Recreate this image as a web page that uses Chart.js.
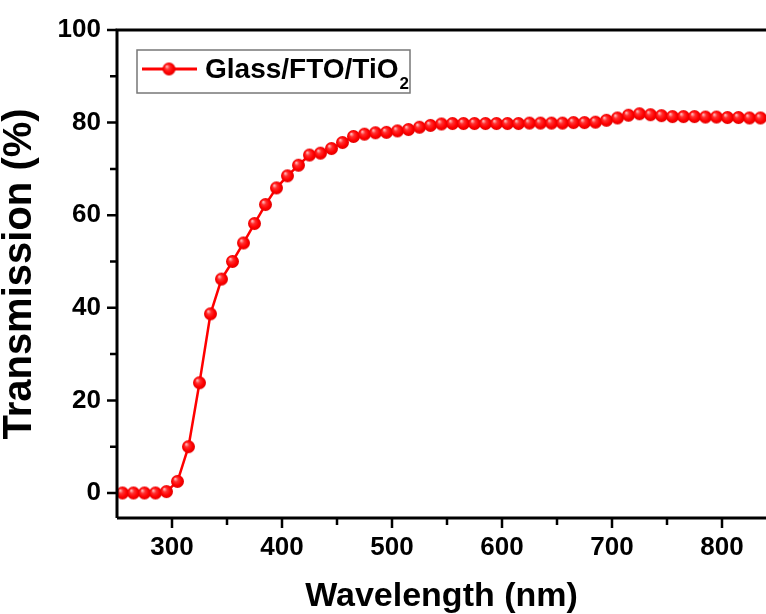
<!DOCTYPE html>
<html>
<head>
<meta charset="utf-8">
<script src="https://cdn.jsdelivr.net/npm/chart.js@4"></script>
<style>
  html, body { margin: 0; padding: 0; background: #fff; overflow: hidden; }
  #wrap { width: 766px; height: 614px; }
  canvas { display: block; }
</style>
</head>
<body>
<div id="wrap"><canvas id="chart"></canvas></div>
<script>
// wavelength (nm) and transmission (%)
const wavelength = [255, 265, 275, 285, 295, 305, 315, 325, 335, 345,
  355, 365, 375, 385, 395, 405, 415, 425, 435, 445,
  455, 465, 475, 485, 495, 505, 515, 525, 535, 545,
  555, 565, 575, 585, 595, 605, 615, 625, 635, 645,
  655, 665, 675, 685, 695, 705, 715, 725, 735, 745,
  755, 765, 775, 785, 795, 805, 815, 825, 835];
const transmission = [0, 0, 0, 0, 0.3, 2.5, 10, 23.8, 38.7, 46.2,
  50, 54, 58.2, 62.3, 65.9, 68.5, 70.8, 73, 73.4, 74.4,
  75.7, 77, 77.5, 77.8, 77.9, 78.2, 78.5, 79, 79.4, 79.7,
  79.8, 79.8, 79.8, 79.8, 79.8, 79.8, 79.8, 79.9, 79.9, 79.9,
  79.9, 80, 80, 80.1, 80.5, 81, 81.6, 81.9, 81.7, 81.5,
  81.3, 81.3, 81.3, 81.2, 81.2, 81.1, 81.1, 81.0, 81.0];
const xTicks = [300, 350, 400, 450, 500, 550, 600, 650, 700, 750, 800];
const xLabels = [300, 400, 500, 600, 700, 800];
const yTicks = [0, 10, 20, 30, 40, 50, 60, 70, 80, 90, 100];
const yLabels = [0, 20, 40, 60, 80, 100];
const seriesName = 'Glass/FTO/TiO';

const FONT = '"Liberation Sans", Arial, sans-serif';

// shiny red ball used as the marker
function makeBall(r) {
  const c = document.createElement('canvas');
  c.width = c.height = r * 2 + 2;
  const g = c.getContext('2d');
  const cx = r + 1, cy = r + 1;
  const grad = g.createRadialGradient(cx - r * 0.35, cy - r * 0.4, 0.5, cx, cy, r);
  grad.addColorStop(0, '#ffb0b0');
  grad.addColorStop(0.3, '#ff3030');
  grad.addColorStop(0.7, '#ff0000');
  grad.addColorStop(1, '#e00000');
  g.fillStyle = grad;
  g.beginPath();
  g.arc(cx, cy, r, 0, Math.PI * 2);
  g.fill();
  return c;
}
const ball = makeBall(6.5);

const frame = {
  id: 'frame',
  afterDraw(chart) {
    const ctx = chart.ctx;
    const a = chart.chartArea;
    const xs = chart.scales.x, ys = chart.scales.y;
    ctx.save();
    ctx.strokeStyle = '#000';
    ctx.lineWidth = 3;
    ctx.beginPath();
    ctx.moveTo(a.left, a.bottom); ctx.lineTo(a.right, a.bottom);
    ctx.moveTo(a.left, a.bottom); ctx.lineTo(a.left, a.top);
    ctx.moveTo(a.left - 1.5, a.top); ctx.lineTo(a.right, a.top);
    ctx.stroke();
    ctx.lineWidth = 2.5;
    ctx.beginPath();
    xTicks.forEach(v => {
      const px = xs.getPixelForValue(v);
      const len = xLabels.includes(v) ? 10 : 7;
      ctx.moveTo(px, a.bottom); ctx.lineTo(px, a.bottom + len);
    });
    yTicks.forEach(v => {
      const py = ys.getPixelForValue(v);
      const len = yLabels.includes(v) ? 10 : 7;
      ctx.moveTo(a.left, py); ctx.lineTo(a.left - len, py);
    });
    ctx.stroke();

    // legend
    ctx.lineWidth = 1.5;
    ctx.strokeStyle = '#777';
    ctx.strokeRect(137, 50, 273, 43);
    ctx.strokeStyle = '#ff0000';
    ctx.lineWidth = 3;
    ctx.beginPath();
    ctx.moveTo(142, 69); ctx.lineTo(197, 69);
    ctx.stroke();
    ctx.drawImage(ball, 169 - ball.width / 2, 69 - ball.height / 2);
    ctx.fillStyle = '#000';
    ctx.textBaseline = 'alphabetic';
    ctx.font = 'bold 28px ' + FONT;
    ctx.fillText(seriesName, 205, 78);
    const w = ctx.measureText(seriesName).width;
    ctx.font = 'bold 17px ' + FONT;
    ctx.fillText('2', 205 + w + 1, 89);
    ctx.restore();
  }
};

new Chart(document.getElementById('chart'), {
  type: 'line',
  data: {
    datasets: [{
      label: seriesName,
      data: wavelength.map((x, i) => ({ x: x, y: transmission[i] })),
      borderColor: '#ff0000',
      borderWidth: 2.5,
      pointStyle: ball,
      pointRadius: 6.5,
      tension: 0
    }]
  },
  options: {
    responsive: true,
    maintainAspectRatio: false,
    animation: false,
    layout: { autoPadding: false, padding: { top: 30, right: 0, left: 0, bottom: 0 } },
    plugins: { legend: { display: false }, tooltip: { enabled: false } },
    scales: {
      x: {
        type: 'linear',
        min: 250,
        max: 840,
        border: { display: false },
        grid: { display: false, drawTicks: false },
        afterBuildTicks: s => { s.ticks = xLabels.map(v => ({ value: v })); },
        afterFit: s => { s.height = 96; s.paddingLeft = 0; s.paddingRight = 0; },
        ticks: {
          padding: 14,
          maxRotation: 0,
          autoSkip: false,
          color: '#000',
          font: { family: FONT, size: 26, weight: 'bold' }
        },
        title: {
          display: true,
          text: 'Wavelength (nm)',
          color: '#000',
          padding: { top: 0, bottom: 0 },
          font: { family: FONT, size: 34, weight: 'bold', lineHeight: 1 }
        }
      },
      y: {
        min: -5.4,
        max: 100,
        border: { display: false },
        grid: { display: false, drawTicks: false },
        afterBuildTicks: s => { s.ticks = yLabels.map(v => ({ value: v })); },
        afterFit: s => { s.width = 117; s.paddingTop = 0; s.paddingBottom = 0; },
        ticks: {
          padding: 16,
          color: '#000',
          font: { family: FONT, size: 26, weight: 'bold' }
        },
        title: {
          display: true,
          text: 'Transmission (%)',
          color: '#000',
          padding: { top: 0, bottom: 8 },
          font: { family: FONT, size: 40, weight: 'bold', lineHeight: 1 }
        }
      }
    }
  },
  plugins: [frame]
});
</script>
</body>
</html>
